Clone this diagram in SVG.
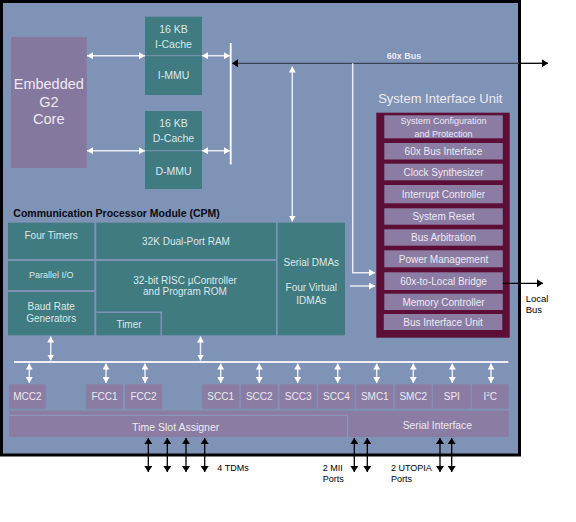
<svg xmlns="http://www.w3.org/2000/svg" width="576" height="522" viewBox="0 0 576 522">
<style>
text{font-family:"Liberation Sans",Arial,sans-serif}
.w{fill:#edeaf3}
.t{fill:#dce8ea}
.k{fill:#000}
.mid{text-anchor:middle}
.teal{fill:#3f7b80}
.pur{fill:#8a7ca3}
.wl{stroke:#e9ecf4;stroke-width:1.5;fill:none}
.bl{stroke:#000;stroke-width:1.3;fill:none}
</style>
<defs>
<marker id="wh" viewBox="0 0 6 7" refX="6" refY="3.5" markerWidth="6" markerHeight="7" markerUnits="userSpaceOnUse" orient="auto-start-reverse"><path d="M0,0L6,3.5L0,7z" fill="#ffffff"/></marker>
<marker id="bh" viewBox="0 0 6 8" refX="6" refY="4" markerWidth="6" markerHeight="8" markerUnits="userSpaceOnUse" orient="auto-start-reverse"><path d="M0,0L6,4L0,8z" fill="#000"/></marker>
</defs>
<rect width="576" height="522" fill="#ffffff"/>
<g id="chip">
<rect x="1.5" y="1.5" width="518" height="453.5" fill="#7f93b6" stroke="#000" stroke-width="3"/>
</g>
<g id="core">
<rect x="11" y="37" width="75.7" height="131" fill="#85789e"/>
<text class="w mid" x="48.8" y="89" font-size="14.5">Embedded</text>
<text class="w mid" x="48.8" y="106.5" font-size="14.5">G2</text>
<text class="w mid" x="48.8" y="124" font-size="14.5">Core</text>
</g>
<g id="icache">
<rect class="teal" x="145" y="16.7" width="57" height="78.3"/>
<line x1="145" y1="55.7" x2="202" y2="55.7" stroke="#7f93b6" stroke-width="1"/>
<text class="t mid" x="173.5" y="33" font-size="10.5">16 KB</text>
<text class="t mid" x="173.5" y="47.5" font-size="10.5">I-Cache</text>
<text class="t mid" x="173.5" y="79" font-size="10.5">I-MMU</text>
</g>
<g id="dcache">
<rect class="teal" x="145" y="111" width="57" height="78"/>
<line x1="145" y1="150.7" x2="202" y2="150.7" stroke="#7f93b6" stroke-width="1"/>
<text class="t mid" x="173.5" y="127.3" font-size="10.5">16 KB</text>
<text class="t mid" x="173.5" y="142" font-size="10.5">D-Cache</text>
<text class="t mid" x="173.5" y="174.7" font-size="10.5">D-MMU</text>
</g>
<g id="bus60x">
<text class="w" x="386.7" y="59" font-size="9" font-weight="bold">60x Bus</text>
</g>
<g id="siu">
<text class="w mid" x="440.3" y="103" font-size="13">System Interface Unit</text>
<rect x="376.3" y="112.7" width="133.4" height="225" fill="#5c0e36"/>
<rect class="pur" x="384.3" y="115.3" width="118.5" height="23"/>
<text class="w mid" x="443.5" y="124.3" font-size="9">System Configuration</text>
<text class="w mid" x="443.5" y="137" font-size="9">and Protection</text>
<rect class="pur" x="384.3" y="143" width="118.5" height="16.5"/>
<text class="w mid" x="443.5" y="155" font-size="10">60x Bus Interface</text>
<rect class="pur" x="384.3" y="163.7" width="118.5" height="16.6"/>
<text class="w mid" x="443.5" y="175.8" font-size="10">Clock Synthesizer</text>
<rect class="pur" x="384.3" y="185" width="118.5" height="18.3"/>
<text class="w mid" x="443.5" y="198" font-size="10">Interrupt Controller</text>
<rect class="pur" x="384.3" y="208.3" width="118.5" height="16.4"/>
<text class="w mid" x="443.5" y="220.3" font-size="10">System Reset</text>
<rect class="pur" x="384.3" y="229.3" width="118.5" height="16.4"/>
<text class="w mid" x="443.5" y="241.3" font-size="10">Bus Arbitration</text>
<rect class="pur" x="384.3" y="250.3" width="118.5" height="17"/>
<text class="w mid" x="443.5" y="262.6" font-size="10">Power Management</text>
<rect class="pur" x="384.3" y="272.3" width="118.5" height="17.7"/>
<text class="w mid" x="443.5" y="285" font-size="10">60x-to-Local Bridge</text>
<rect class="pur" x="384.3" y="293.7" width="118.5" height="16.3"/>
<text class="w mid" x="443.5" y="305.6" font-size="10">Memory Controller</text>
<rect class="pur" x="383.8" y="314" width="118.5" height="16"/>
<text class="w mid" x="443" y="325.8" font-size="10">Bus Interface Unit</text>
</g>
<g id="localbus">
<text class="k" x="525.7" y="301.5" font-size="9.5">Local</text>
<text class="k" x="525.7" y="312.5" font-size="9.5">Bus</text>
</g>
<g id="cpm">
<text x="13.3" y="216.5" font-size="10.5" font-weight="bold" fill="#0a0a14">Communication Processor Module (CPM)</text>
<rect class="teal" x="8" y="222.7" width="86.3" height="36.3"/>
<text class="t mid" x="51.2" y="238.5" font-size="10">Four Timers</text>
<rect class="teal" x="8" y="261" width="86.3" height="29"/>
<text class="t mid" x="51.2" y="278" font-size="9">Parallel I/O</text>
<rect class="teal" x="8" y="292" width="86.3" height="43.3"/>
<text class="t mid" x="51.2" y="310" font-size="10">Baud Rate</text>
<text class="t mid" x="51.2" y="322" font-size="10">Generators</text>
<rect class="teal" x="96.3" y="222.7" width="179.7" height="36.3"/>
<text class="t mid" x="186" y="245.3" font-size="10">32K Dual-Port RAM</text>
<rect class="teal" x="96.3" y="261" width="179.7" height="74.3"/>
<text class="t mid" x="185" y="283.5" font-size="10">32-bit RISC µController</text>
<text class="t mid" x="185" y="295.3" font-size="10">and Program ROM</text>
<polyline points="96.3,312.3 161.3,312.3 161.3,335.3" fill="none" stroke="#7f93b6" stroke-width="1.5"/>
<text class="t mid" x="129" y="328" font-size="10">Timer</text>
<rect class="teal" x="277.7" y="222.7" width="67.3" height="112.6"/>
<text class="t mid" x="311.3" y="266" font-size="10">Serial DMAs</text>
<text class="t mid" x="311.3" y="291.3" font-size="10">Four Virtual</text>
<text class="t mid" x="311.3" y="303.7" font-size="10">IDMAs</text>
</g>
<g id="mcc2"><rect class="pur" x="9" y="384.3" width="36.7" height="24.4"/><text class="w mid" x="27.4" y="400.3" font-size="10">MCC2</text></g>
<g id="fcc1"><rect class="pur" x="86" y="384.3" width="37" height="24.4"/><text class="w mid" x="104.5" y="400.3" font-size="10">FCC1</text></g>
<g id="fcc2"><rect class="pur" x="125" y="384.3" width="37" height="24.4"/><text class="w mid" x="143.5" y="400.3" font-size="10">FCC2</text></g>
<g id="scc1"><rect class="pur" x="202" y="384.3" width="37.3" height="24.4"/><text class="w mid" x="220.7" y="400.3" font-size="10">SCC1</text></g>
<g id="scc2"><rect class="pur" x="241" y="384.3" width="36.7" height="24.4"/><text class="w mid" x="259.3" y="400.3" font-size="10">SCC2</text></g>
<g id="scc3"><rect class="pur" x="279.7" y="384.3" width="37" height="24.4"/><text class="w mid" x="298.2" y="400.3" font-size="10">SCC3</text></g>
<g id="scc4"><rect class="pur" x="318" y="384.3" width="36.8" height="24.4"/><text class="w mid" x="336.4" y="400.3" font-size="10">SCC4</text></g>
<g id="smc1"><rect class="pur" x="356.3" y="384.3" width="37" height="24.4"/><text class="w mid" x="374.8" y="400.3" font-size="10">SMC1</text></g>
<g id="smc2"><rect class="pur" x="395" y="384.3" width="36.7" height="24.4"/><text class="w mid" x="413.3" y="400.3" font-size="10">SMC2</text></g>
<g id="spi"><rect class="pur" x="433" y="384.3" width="37.7" height="24.4"/><text class="w mid" x="451.8" y="400.3" font-size="10">SPI</text></g>
<g id="i2c"><rect class="pur" x="472" y="384.3" width="36.7" height="24.4"/><text class="w mid" x="490.3" y="400.3" font-size="10">I<tspan font-size="6" dy="-4">2</tspan><tspan dy="4">C</tspan></text></g>
<g id="serial-interface">
<rect class="pur" x="9" y="410.7" width="499.7" height="26.3"/>
<text class="w mid" x="437.3" y="429.3" font-size="10.3">Serial Interface</text>
</g>
<g id="tsa">
<polyline points="9,415.3 347.7,415.3 347.7,437" fill="none" stroke="#8e9cc0" stroke-width="1"/>
<text class="w mid" x="175.7" y="431.4" font-size="10.5">Time Slot Assigner</text>
</g>
<g id="ports">
<text class="k" x="217.3" y="471" font-size="9">4 TDMs</text>
<text class="k" x="322.7" y="471" font-size="9">2 MII</text>
<text class="k" x="322.7" y="482" font-size="9">Ports</text>
<text class="k" x="391" y="471" font-size="9">2 UTOPIA</text>
<text class="k" x="391" y="482" font-size="9">Ports</text>
</g>
<g id="connectors">
<line class="wl" x1="87" y1="55.7" x2="145" y2="55.7" marker-start="url(#wh)" marker-end="url(#wh)"/>
<line class="wl" x1="202" y1="55.7" x2="230" y2="55.7" marker-start="url(#wh)" marker-end="url(#wh)"/>
<line class="wl" x1="87" y1="150.7" x2="145" y2="150.7" marker-start="url(#wh)" marker-end="url(#wh)"/>
<line class="wl" x1="202" y1="150.7" x2="230" y2="150.7" marker-start="url(#wh)" marker-end="url(#wh)"/>
<line x1="230.7" y1="43" x2="230.7" y2="164.5" stroke="#ffffff" stroke-width="1.8"/>
<line x1="232" y1="63.3" x2="519" y2="63.3" stroke="#3a4258" stroke-width="1.3" marker-start="url(#bh)"/>
<line class="bl" x1="519" y1="63.3" x2="548" y2="63.3" marker-end="url(#bh)"/>
<line class="wl" x1="292.3" y1="66.5" x2="292.3" y2="221.5" marker-start="url(#wh)" marker-end="url(#wh)"/>
<polyline class="wl" points="352.7,63.3 352.7,272.7 375,272.7" marker-end="url(#wh)"/>
<line class="wl" x1="350" y1="286" x2="375" y2="286" marker-end="url(#wh)"/>
<line class="bl" x1="502.7" y1="283.3" x2="543" y2="283.3" marker-end="url(#bh)"/>
<line class="wl" x1="50.7" y1="336.5" x2="50.7" y2="360.5" marker-start="url(#wh)" marker-end="url(#wh)"/>
<line class="wl" x1="200.5" y1="336.5" x2="200.5" y2="360.5" marker-start="url(#wh)" marker-end="url(#wh)"/>
<line x1="14" y1="362" x2="508.3" y2="362" stroke="#eef0f6" stroke-width="2"/>
<line class="wl" x1="29.3" y1="363.5" x2="29.3" y2="383" marker-start="url(#wh)" marker-end="url(#wh)"/>
<line class="wl" x1="106" y1="363.5" x2="106" y2="383" marker-start="url(#wh)" marker-end="url(#wh)"/>
<line class="wl" x1="145" y1="363.5" x2="145" y2="383" marker-start="url(#wh)" marker-end="url(#wh)"/>
<line class="wl" x1="220.7" y1="363.5" x2="220.7" y2="383" marker-start="url(#wh)" marker-end="url(#wh)"/>
<line class="wl" x1="259.3" y1="363.5" x2="259.3" y2="383" marker-start="url(#wh)" marker-end="url(#wh)"/>
<line class="wl" x1="297.7" y1="363.5" x2="297.7" y2="383" marker-start="url(#wh)" marker-end="url(#wh)"/>
<line class="wl" x1="337.7" y1="363.5" x2="337.7" y2="383" marker-start="url(#wh)" marker-end="url(#wh)"/>
<line class="wl" x1="376.7" y1="363.5" x2="376.7" y2="383" marker-start="url(#wh)" marker-end="url(#wh)"/>
<line class="wl" x1="413.3" y1="363.5" x2="413.3" y2="383" marker-start="url(#wh)" marker-end="url(#wh)"/>
<line class="wl" x1="452.3" y1="363.5" x2="452.3" y2="383" marker-start="url(#wh)" marker-end="url(#wh)"/>
<line class="wl" x1="491" y1="363.5" x2="491" y2="383" marker-start="url(#wh)" marker-end="url(#wh)"/>
<line class="bl" x1="148.3" y1="438" x2="148.3" y2="472" marker-start="url(#bh)" marker-end="url(#bh)"/>
<line class="bl" x1="167.3" y1="438" x2="167.3" y2="472" marker-start="url(#bh)" marker-end="url(#bh)"/>
<line class="bl" x1="186" y1="438" x2="186" y2="472" marker-start="url(#bh)" marker-end="url(#bh)"/>
<line class="bl" x1="204.7" y1="438" x2="204.7" y2="472" marker-start="url(#bh)" marker-end="url(#bh)"/>
<line class="bl" x1="354.3" y1="438" x2="354.3" y2="472" marker-start="url(#bh)" marker-end="url(#bh)"/>
<line class="bl" x1="367.3" y1="438" x2="367.3" y2="472" marker-start="url(#bh)" marker-end="url(#bh)"/>
<line class="bl" x1="440" y1="438" x2="440" y2="472" marker-start="url(#bh)" marker-end="url(#bh)"/>
<line class="bl" x1="451.7" y1="438" x2="451.7" y2="472" marker-start="url(#bh)" marker-end="url(#bh)"/>
</g>
</svg>
